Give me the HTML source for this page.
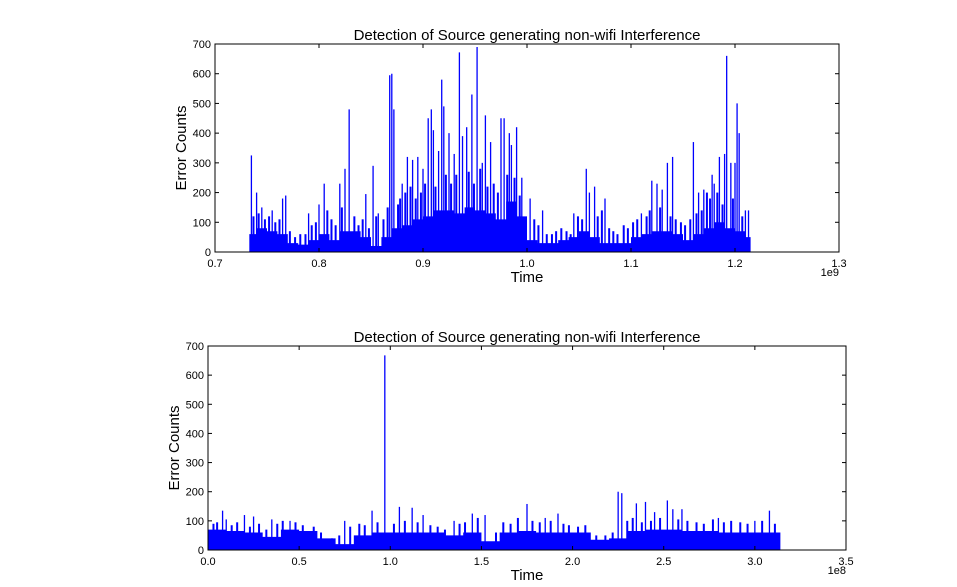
<!DOCTYPE html>
<html><head><meta charset="utf-8"><style>
body{margin:0;background:#fff;}
svg text{font-family:"Liberation Sans",sans-serif;fill:#000;}
</style></head><body>
<svg id="chart" width="957" height="582" xmlns="http://www.w3.org/2000/svg"></svg>
<script>
// ---- Top chart data (time in 1e9 units) ----
const topBaseTimes=[0.733,0.74,0.75,0.76,0.77,0.78,0.79,0.80,0.81,0.82,0.83,0.84,0.85,0.86,0.87,0.88,0.89,0.90,0.91,0.92,0.93,0.94,0.95,0.96,0.97,0.98,0.99,1.00,1.01,1.02,1.03,1.04,1.05,1.06,1.07,1.08,1.09,1.10,1.11,1.12,1.13,1.14,1.15,1.16,1.17,1.18,1.19,1.20,1.21,1.215];
const topBaseValues=[60,80,70,60,30,25,40,60,40,70,70,50,20,50,80,90,110,120,140,140,130,150,140,130,110,170,120,40,30,30,40,50,70,50,30,30,30,50,60,70,70,60,40,60,80,100,80,70,50,0];
const topSpikeTimes=[0.735,0.74,0.745,0.755,0.765,0.768,0.79,0.80,0.805,0.82,0.825,0.829,0.845,0.852,0.857,0.868,0.870,0.872,0.88,0.885,0.89,0.895,0.90,0.905,0.908,0.91,0.915,0.918,0.92,0.925,0.93,0.935,0.938,0.942,0.947,0.952,0.957,0.96,0.965,0.975,0.978,0.983,0.985,0.99,0.995,1.003,1.015,1.045,1.057,1.06,1.065,1.075,1.11,1.12,1.125,1.13,1.135,1.14,1.16,1.165,1.17,1.178,1.18,1.185,1.19,1.192,1.196,1.20,1.202,1.204,1.21,1.213];
const topSpikeValues=[325,200,150,140,180,190,130,160,230,230,280,480,195,290,130,595,600,480,230,320,310,320,280,450,480,410,340,580,490,400,330,672,390,420,530,690,300,460,370,450,450,400,360,420,250,180,140,130,280,200,220,180,130,240,230,210,300,320,370,200,210,260,230,320,330,660,300,300,500,400,140,140];
const topMidTimes=[0.737,0.742,0.748,0.752,0.758,0.762,0.772,0.777,0.782,0.787,0.793,0.797,0.808,0.812,0.816,0.822,0.834,0.838,0.842,0.848,0.855,0.862,0.866,0.876,0.878,0.883,0.888,0.893,0.898,0.902,0.912,0.922,0.927,0.932,0.944,0.949,0.955,0.962,0.968,0.972,0.981,0.988,0.993,0.998,1.007,1.011,1.019,1.024,1.028,1.033,1.038,1.042,1.049,1.053,1.068,1.072,1.079,1.083,1.087,1.093,1.097,1.102,1.106,1.115,1.118,1.128,1.138,1.143,1.148,1.152,1.157,1.163,1.168,1.173,1.176,1.183,1.188,1.198,1.207];
const topMidValues=[120,130,110,120,100,110,70,50,60,60,90,100,140,110,90,150,120,90,110,80,120,110,150,160,180,200,220,180,200,230,220,260,230,260,270,230,280,220,230,200,260,250,190,110,110,90,60,60,70,80,70,60,120,110,120,140,80,70,60,90,80,100,110,120,140,150,120,110,100,90,110,130,140,200,180,200,160,180,120];
const topXTicks=["0.7","0.8","0.9","1.0","1.1","1.2","1.3"];
const yTicks=["0","100","200","300","400","500","600","700"];
// ---- Bottom chart data (time in 1e8 units) ----
const botBaseTimes=[0.0,0.1,0.2,0.3,0.4,0.5,0.6,0.7,0.8,0.9,1.0,1.1,1.2,1.3,1.4,1.5,1.6,1.7,1.8,1.9,2.0,2.1,2.2,2.3,2.4,2.5,2.6,2.7,2.8,2.9,3.0,3.1,3.14];
const botBaseValues=[70,65,60,45,70,65,40,20,50,60,60,60,60,50,60,30,60,65,60,60,60,35,40,65,70,70,65,65,60,60,60,60,0];
const botSpikeTimes=[0.08,0.1,0.2,0.25,0.35,0.45,0.75,0.9,0.97,1.05,1.12,1.18,1.35,1.45,1.52,1.75,1.85,1.92,2.25,2.27,2.35,2.4,2.45,2.52,2.55,2.6,2.8,3.0,3.08];
const botSpikeValues=[135,105,120,115,105,100,100,135,668,148,145,120,100,125,120,158,110,125,200,195,160,165,130,170,140,140,110,100,135];
const botMidTimes=[0.03,0.05,0.13,0.16,0.23,0.28,0.32,0.38,0.41,0.48,0.52,0.58,0.62,0.68,0.72,0.78,0.83,0.86,0.93,1.02,1.08,1.15,1.22,1.26,1.3,1.38,1.41,1.48,1.58,1.62,1.66,1.7,1.78,1.82,1.88,1.95,1.98,2.03,2.07,2.13,2.18,2.22,2.3,2.33,2.38,2.43,2.48,2.58,2.63,2.68,2.72,2.77,2.83,2.87,2.92,2.96,3.04,3.11];
const botMidValues=[90,95,85,95,80,90,70,90,100,95,85,80,60,40,50,80,90,85,95,90,100,95,85,80,70,90,95,110,60,95,90,110,100,95,100,90,85,80,85,50,50,60,100,110,95,100,110,105,100,95,90,105,95,100,95,90,100,90];
const botXTicks=["0.0","0.5","1.0","1.5","2.0","2.5","3.0","3.5"];

const NS="http://www.w3.org/2000/svg";
const svg=document.getElementById('chart');
function mk(tag,attrs,parent){const e=document.createElementNS(NS,tag);for(const k in attrs)e.setAttribute(k,attrs[k]);(parent||svg).appendChild(e);return e;}

function drawPanel(p){
  const g=mk('g',{});
  
  
  const xs=v=>p.x0+(v-p.xmin)/(p.xmax-p.xmin)*(p.x1-p.x0);
  const ys=v=>p.y1-v/700*(p.y1-p.y0);
  let d='M'+xs(p.bt[0])+','+ys(0);
  for(let i=0;i<p.bt.length-1;i++){d+=' L'+xs(p.bt[i])+','+ys(p.bv[i])+' L'+xs(p.bt[i+1])+','+ys(p.bv[i]);}
  d+=' L'+xs(p.bt[p.bt.length-1])+','+ys(0)+' Z';
  const area=mk('path',{d:d,fill:'#0000ff',stroke:'none'},g);
  
  
  for(let i=0;i<p.mt.length;i++){
    const l=mk('line',{x1:xs(p.mt[i]),x2:xs(p.mt[i]),y1:ys(0),y2:ys(p.mv[i]),stroke:'#0000ff','stroke-width':2},g);
    
    
  }
  for(let i=0;i<p.st.length;i++){
    const l=mk('line',{x1:xs(p.st[i]),x2:xs(p.st[i]),y1:ys(0),y2:ys(p.sv[i]),stroke:'#0000ff','stroke-width':1.3},g);
    
    
  }
  const fr=mk('rect',{x:p.x0,y:p.y0,width:p.x1-p.x0,height:p.y1-p.y0,fill:'none',stroke:'#000','stroke-width':1},g);
  
  
  p.xt.forEach((t,i)=>{
    const x=p.x0+i*(p.x1-p.x0)/(p.xt.length-1);
    mk('line',{x1:x,x2:x,y1:p.y1,y2:p.y1-4,stroke:'#000'},g);
    mk('line',{x1:x,x2:x,y1:p.y0,y2:p.y0+4,stroke:'#000'},g);
    const tx=mk('text',{x:x,y:p.y1+15,'font-size':11,'text-anchor':'middle'},g);tx.textContent=t;
    
    
  });
  yTicks.forEach((t,i)=>{
    const y=ys(+t);
    mk('line',{x1:p.x0,x2:p.x0+4,y1:y,y2:y,stroke:'#000'},g);
    mk('line',{x1:p.x1,x2:p.x1-4,y1:y,y2:y,stroke:'#000'},g);
    const tx=mk('text',{x:p.x0-4,y:y+4,'font-size':11,'text-anchor':'end'},g);tx.textContent=t;
    
    
  });
  const ti=mk('text',{x:(p.x0+p.x1)/2,y:p.y0-4,'font-size':15,'text-anchor':'middle'},g);ti.textContent='Detection of Source generating non-wifi Interference';
  
  
  const xl=mk('text',{x:(p.x0+p.x1)/2,y:p.y1+30,'font-size':15,'text-anchor':'middle'},g);xl.textContent='Time';
  
  
  const yl=mk('text',{x:0,y:0,'font-size':15,'text-anchor':'middle',transform:'translate('+(p.x0-29)+','+((p.y0+p.y1)/2)+') rotate(-90)'},g);yl.textContent='Error Counts';
  
  
  const ex=mk('text',{x:p.x1,y:p.y1+24,'font-size':11,'text-anchor':'end'},g);ex.textContent=p.exp;
  
  
}
drawPanel({name:'top-chart',x0:215,x1:839,y0:44,y1:252,xmin:0.7,xmax:1.3,bt:topBaseTimes,bv:topBaseValues,st:topSpikeTimes,sv:topSpikeValues,mt:topMidTimes,mv:topMidValues,xt:topXTicks,exp:'1e9'});
drawPanel({name:'bottom-chart',x0:208,x1:846,y0:346,y1:550,xmin:0,xmax:3.5,bt:botBaseTimes,bv:botBaseValues,st:botSpikeTimes,sv:botSpikeValues,mt:botMidTimes,mv:botMidValues,xt:botXTicks,exp:'1e8'});
</script>
</body></html>
